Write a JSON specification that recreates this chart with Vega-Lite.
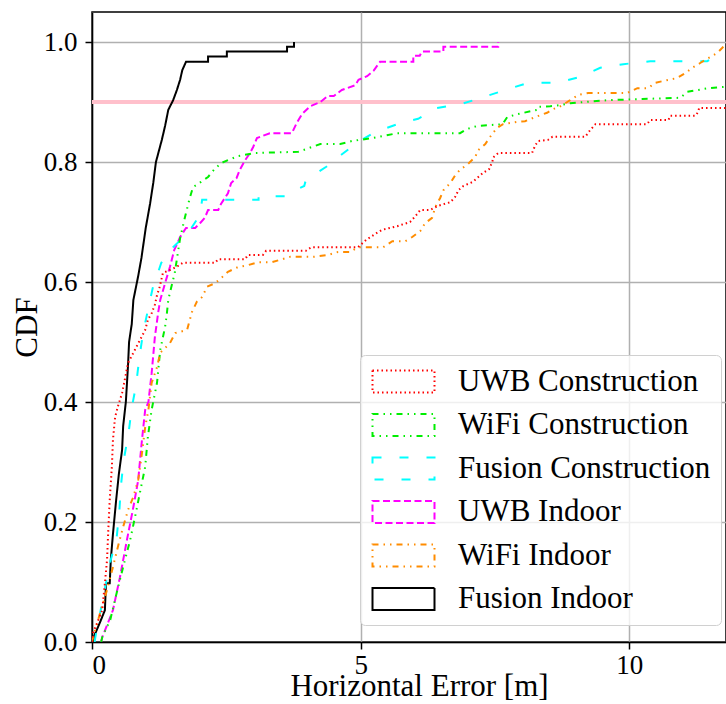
{
  "$schema": "https://vega.github.io/schema/vega-lite/v6.json",
  "width": 634,
  "height": 630,
  "autosize": {"type": "none"},
  "padding": {"left": 92, "top": 12, "right": 0, "bottom": 62},
  "background": "white",
  "config": {
    "view": {"stroke": "black", "strokeWidth": 1.5},
    "font": "Liberation Serif",
    "legend": {"labelFont": "Liberation Serif"},
    "axis": {
      "labelFont": "Liberation Serif",
      "titleFont": "Liberation Serif",
      "labelColor": "black",
      "titleColor": "black",
      "labelFontSize": 27,
      "titleFontSize": 31,
      "titleFontWeight": "normal",
      "grid": true,
      "gridColor": "#b0b0b0",
      "gridWidth": 1.5,
      "domainColor": "black",
      "domainWidth": 1.5,
      "tickColor": "black",
      "tickWidth": 1.5,
      "tickSize": 7
    }
  },
  "data": {"values": [
    {"s":"Fusion Indoor","x":0.03,"y":0},{"s":"Fusion Indoor","x":0.04,"y":0.01},{"s":"Fusion Indoor","x":0.15,"y":0.033},{"s":"Fusion Indoor","x":0.24,"y":0.053},{"s":"Fusion Indoor","x":0.26,"y":0.098},{"s":"Fusion Indoor","x":0.33,"y":0.098},{"s":"Fusion Indoor","x":0.35,"y":0.137},{"s":"Fusion Indoor","x":0.39,"y":0.18},{"s":"Fusion Indoor","x":0.45,"y":0.237},{"s":"Fusion Indoor","x":0.5,"y":0.28},{"s":"Fusion Indoor","x":0.56,"y":0.32},{"s":"Fusion Indoor","x":0.58,"y":0.36},{"s":"Fusion Indoor","x":0.63,"y":0.4},{"s":"Fusion Indoor","x":0.67,"y":0.46},{"s":"Fusion Indoor","x":0.69,"y":0.5},{"s":"Fusion Indoor","x":0.74,"y":0.53},{"s":"Fusion Indoor","x":0.77,"y":0.57},{"s":"Fusion Indoor","x":0.86,"y":0.61},{"s":"Fusion Indoor","x":0.92,"y":0.64},{"s":"Fusion Indoor","x":1.0,"y":0.69},{"s":"Fusion Indoor","x":1.08,"y":0.73},{"s":"Fusion Indoor","x":1.14,"y":0.765},{"s":"Fusion Indoor","x":1.19,"y":0.8},{"s":"Fusion Indoor","x":1.3,"y":0.837},{"s":"Fusion Indoor","x":1.36,"y":0.86},{"s":"Fusion Indoor","x":1.42,"y":0.887},{"s":"Fusion Indoor","x":1.51,"y":0.903},{"s":"Fusion Indoor","x":1.58,"y":0.92},{"s":"Fusion Indoor","x":1.64,"y":0.937},{"s":"Fusion Indoor","x":1.68,"y":0.953},{"s":"Fusion Indoor","x":1.75,"y":0.967},{"s":"Fusion Indoor","x":2.16,"y":0.967},{"s":"Fusion Indoor","x":2.16,"y":0.976},{"s":"Fusion Indoor","x":2.51,"y":0.976},{"s":"Fusion Indoor","x":2.51,"y":0.984},{"s":"Fusion Indoor","x":3.63,"y":0.984},{"s":"Fusion Indoor","x":3.63,"y":0.992},{"s":"Fusion Indoor","x":3.76,"y":0.992},{"s":"Fusion Indoor","x":3.76,"y":1.0},

    {"s":"UWB Indoor","x":0.17,"y":0},{"s":"UWB Indoor","x":0.19,"y":0.008},{"s":"UWB Indoor","x":0.39,"y":0.053},{"s":"UWB Indoor","x":0.52,"y":0.108},{"s":"UWB Indoor","x":0.65,"y":0.17},{"s":"UWB Indoor","x":0.77,"y":0.225},{"s":"UWB Indoor","x":0.86,"y":0.27},{"s":"UWB Indoor","x":0.93,"y":0.337},{"s":"UWB Indoor","x":0.99,"y":0.387},{"s":"UWB Indoor","x":1.05,"y":0.4},{"s":"UWB Indoor","x":1.11,"y":0.448},{"s":"UWB Indoor","x":1.17,"y":0.508},{"s":"UWB Indoor","x":1.23,"y":0.548},{"s":"UWB Indoor","x":1.27,"y":0.57},{"s":"UWB Indoor","x":1.36,"y":0.598},{"s":"UWB Indoor","x":1.45,"y":0.625},{"s":"UWB Indoor","x":1.53,"y":0.653},{"s":"UWB Indoor","x":1.64,"y":0.675},{"s":"UWB Indoor","x":1.75,"y":0.69},{"s":"UWB Indoor","x":1.92,"y":0.69},{"s":"UWB Indoor","x":2.01,"y":0.698},{"s":"UWB Indoor","x":2.1,"y":0.707},{"s":"UWB Indoor","x":2.16,"y":0.72},{"s":"UWB Indoor","x":2.35,"y":0.72},{"s":"UWB Indoor","x":2.4,"y":0.73},{"s":"UWB Indoor","x":2.53,"y":0.748},{"s":"UWB Indoor","x":2.59,"y":0.765},{"s":"UWB Indoor","x":2.69,"y":0.773},{"s":"UWB Indoor","x":2.75,"y":0.787},{"s":"UWB Indoor","x":2.85,"y":0.803},{"s":"UWB Indoor","x":2.94,"y":0.815},{"s":"UWB Indoor","x":3.0,"y":0.825},{"s":"UWB Indoor","x":3.07,"y":0.84},{"s":"UWB Indoor","x":3.31,"y":0.848},{"s":"UWB Indoor","x":3.72,"y":0.848},{"s":"UWB Indoor","x":3.81,"y":0.865},{"s":"UWB Indoor","x":3.91,"y":0.88},{"s":"UWB Indoor","x":4.06,"y":0.893},{"s":"UWB Indoor","x":4.25,"y":0.9},{"s":"UWB Indoor","x":4.39,"y":0.91},{"s":"UWB Indoor","x":4.5,"y":0.91},{"s":"UWB Indoor","x":4.65,"y":0.92},{"s":"UWB Indoor","x":4.9,"y":0.928},{"s":"UWB Indoor","x":4.96,"y":0.937},{"s":"UWB Indoor","x":5.12,"y":0.943},{"s":"UWB Indoor","x":5.24,"y":0.952},{"s":"UWB Indoor","x":5.36,"y":0.967},{"s":"UWB Indoor","x":5.98,"y":0.967},{"s":"UWB Indoor","x":5.98,"y":0.977},{"s":"UWB Indoor","x":6.1,"y":0.977},{"s":"UWB Indoor","x":6.14,"y":0.984},{"s":"UWB Indoor","x":6.54,"y":0.984},{"s":"UWB Indoor","x":6.54,"y":0.992},{"s":"UWB Indoor","x":7.56,"y":0.992},{"s":"UWB Indoor","x":7.56,"y":1.0},

    {"s":"Fusion Construction","x":0.05,"y":0},{"s":"Fusion Construction","x":0.06,"y":0.007},{"s":"Fusion Construction","x":0.33,"y":0.13},{"s":"Fusion Construction","x":0.46,"y":0.175},{"s":"Fusion Construction","x":0.51,"y":0.22},{"s":"Fusion Construction","x":0.54,"y":0.262},{"s":"Fusion Construction","x":0.59,"y":0.303},{"s":"Fusion Construction","x":0.68,"y":0.348},{"s":"Fusion Construction","x":0.74,"y":0.39},{"s":"Fusion Construction","x":0.82,"y":0.428},{"s":"Fusion Construction","x":0.88,"y":0.473},{"s":"Fusion Construction","x":0.95,"y":0.515},{"s":"Fusion Construction","x":1.04,"y":0.553},{"s":"Fusion Construction","x":1.13,"y":0.59},{"s":"Fusion Construction","x":1.29,"y":0.632},{"s":"Fusion Construction","x":1.51,"y":0.658},{"s":"Fusion Construction","x":1.79,"y":0.682},{"s":"Fusion Construction","x":2.01,"y":0.712},{"s":"Fusion Construction","x":2.05,"y":0.737},{"s":"Fusion Construction","x":3.1,"y":0.737},{"s":"Fusion Construction","x":3.1,"y":0.743},{"s":"Fusion Construction","x":3.6,"y":0.743},{"s":"Fusion Construction","x":3.65,"y":0.748},{"s":"Fusion Construction","x":3.95,"y":0.76},{"s":"Fusion Construction","x":3.98,"y":0.77},{"s":"Fusion Construction","x":4.36,"y":0.792},{"s":"Fusion Construction","x":4.64,"y":0.812},{"s":"Fusion Construction","x":4.93,"y":0.832},{"s":"Fusion Construction","x":5.27,"y":0.85},{"s":"Fusion Construction","x":5.68,"y":0.863},{"s":"Fusion Construction","x":6.07,"y":0.872},{"s":"Fusion Construction","x":6.42,"y":0.89},{"s":"Fusion Construction","x":6.89,"y":0.897},{"s":"Fusion Construction","x":7.28,"y":0.908},{"s":"Fusion Construction","x":7.69,"y":0.92},{"s":"Fusion Construction","x":8.12,"y":0.932},{"s":"Fusion Construction","x":8.66,"y":0.932},{"s":"Fusion Construction","x":9.09,"y":0.942},{"s":"Fusion Construction","x":9.46,"y":0.957},{"s":"Fusion Construction","x":9.89,"y":0.963},{"s":"Fusion Construction","x":10.39,"y":0.968},{"s":"Fusion Construction","x":11.45,"y":0.968},{"s":"Fusion Construction","x":11.6,"y":0.975},{"s":"Fusion Construction","x":12.5,"y":0.975},

    {"s":"WiFi Construction","x":0.17,"y":0},{"s":"WiFi Construction","x":0.19,"y":0.008},{"s":"WiFi Construction","x":0.34,"y":0.037},{"s":"WiFi Construction","x":0.46,"y":0.082},{"s":"WiFi Construction","x":0.58,"y":0.125},{"s":"WiFi Construction","x":0.71,"y":0.17},{"s":"WiFi Construction","x":0.8,"y":0.208},{"s":"WiFi Construction","x":0.89,"y":0.248},{"s":"WiFi Construction","x":0.99,"y":0.292},{"s":"WiFi Construction","x":1.04,"y":0.342},{"s":"WiFi Construction","x":1.11,"y":0.387},{"s":"WiFi Construction","x":1.21,"y":0.432},{"s":"WiFi Construction","x":1.27,"y":0.487},{"s":"WiFi Construction","x":1.36,"y":0.525},{"s":"WiFi Construction","x":1.39,"y":0.545},{"s":"WiFi Construction","x":1.42,"y":0.57},{"s":"WiFi Construction","x":1.45,"y":0.582},{"s":"WiFi Construction","x":1.54,"y":0.615},{"s":"WiFi Construction","x":1.64,"y":0.673},{"s":"WiFi Construction","x":1.73,"y":0.708},{"s":"WiFi Construction","x":1.82,"y":0.74},{"s":"WiFi Construction","x":1.88,"y":0.758},{"s":"WiFi Construction","x":2.03,"y":0.767},{"s":"WiFi Construction","x":2.16,"y":0.775},{"s":"WiFi Construction","x":2.27,"y":0.787},{"s":"WiFi Construction","x":2.4,"y":0.798},{"s":"WiFi Construction","x":2.53,"y":0.803},{"s":"WiFi Construction","x":2.72,"y":0.81},{"s":"WiFi Construction","x":3.04,"y":0.815},{"s":"WiFi Construction","x":3.84,"y":0.817},{"s":"WiFi Construction","x":4.25,"y":0.83},{"s":"WiFi Construction","x":4.62,"y":0.83},{"s":"WiFi Construction","x":4.84,"y":0.835},{"s":"WiFi Construction","x":5.23,"y":0.84},{"s":"WiFi Construction","x":5.68,"y":0.848},{"s":"WiFi Construction","x":6.85,"y":0.848},{"s":"WiFi Construction","x":6.98,"y":0.855},{"s":"WiFi Construction","x":7.17,"y":0.86},{"s":"WiFi Construction","x":7.64,"y":0.863},{"s":"WiFi Construction","x":7.73,"y":0.875},{"s":"WiFi Construction","x":7.93,"y":0.88},{"s":"WiFi Construction","x":8.29,"y":0.887},{"s":"WiFi Construction","x":8.31,"y":0.892},{"s":"WiFi Construction","x":8.53,"y":0.893},{"s":"WiFi Construction","x":8.72,"y":0.895},{"s":"WiFi Construction","x":8.9,"y":0.898},{"s":"WiFi Construction","x":9.59,"y":0.903},{"s":"WiFi Construction","x":10.24,"y":0.905},{"s":"WiFi Construction","x":10.95,"y":0.907},{"s":"WiFi Construction","x":11.08,"y":0.917},{"s":"WiFi Construction","x":11.47,"y":0.923},{"s":"WiFi Construction","x":11.75,"y":0.925},{"s":"WiFi Construction","x":12.5,"y":0.93},

    {"s":"WiFi Indoor","x":0.0,"y":0},{"s":"WiFi Indoor","x":0.02,"y":0.008},{"s":"WiFi Indoor","x":0.15,"y":0.048},{"s":"WiFi Indoor","x":0.28,"y":0.087},{"s":"WiFi Indoor","x":0.39,"y":0.125},{"s":"WiFi Indoor","x":0.48,"y":0.158},{"s":"WiFi Indoor","x":0.58,"y":0.192},{"s":"WiFi Indoor","x":0.67,"y":0.22},{"s":"WiFi Indoor","x":0.77,"y":0.242},{"s":"WiFi Indoor","x":0.86,"y":0.27},{"s":"WiFi Indoor","x":0.93,"y":0.315},{"s":"WiFi Indoor","x":0.99,"y":0.358},{"s":"WiFi Indoor","x":1.05,"y":0.387},{"s":"WiFi Indoor","x":1.11,"y":0.432},{"s":"WiFi Indoor","x":1.21,"y":0.458},{"s":"WiFi Indoor","x":1.27,"y":0.482},{"s":"WiFi Indoor","x":1.45,"y":0.498},{"s":"WiFi Indoor","x":1.55,"y":0.515},{"s":"WiFi Indoor","x":1.77,"y":0.52},{"s":"WiFi Indoor","x":1.86,"y":0.55},{"s":"WiFi Indoor","x":1.95,"y":0.567},{"s":"WiFi Indoor","x":2.05,"y":0.575},{"s":"WiFi Indoor","x":2.14,"y":0.592},{"s":"WiFi Indoor","x":2.29,"y":0.598},{"s":"WiFi Indoor","x":2.42,"y":0.608},{"s":"WiFi Indoor","x":2.53,"y":0.617},{"s":"WiFi Indoor","x":2.72,"y":0.625},{"s":"WiFi Indoor","x":2.9,"y":0.628},{"s":"WiFi Indoor","x":3.09,"y":0.633},{"s":"WiFi Indoor","x":3.35,"y":0.633},{"s":"WiFi Indoor","x":3.69,"y":0.642},{"s":"WiFi Indoor","x":4.12,"y":0.642},{"s":"WiFi Indoor","x":4.39,"y":0.645},{"s":"WiFi Indoor","x":4.58,"y":0.65},{"s":"WiFi Indoor","x":4.8,"y":0.65},{"s":"WiFi Indoor","x":4.95,"y":0.658},{"s":"WiFi Indoor","x":5.42,"y":0.658},{"s":"WiFi Indoor","x":5.59,"y":0.668},{"s":"WiFi Indoor","x":5.83,"y":0.668},{"s":"WiFi Indoor","x":5.96,"y":0.675},{"s":"WiFi Indoor","x":6.11,"y":0.685},{"s":"WiFi Indoor","x":6.2,"y":0.698},{"s":"WiFi Indoor","x":6.33,"y":0.707},{"s":"WiFi Indoor","x":6.39,"y":0.725},{"s":"WiFi Indoor","x":6.48,"y":0.74},{"s":"WiFi Indoor","x":6.54,"y":0.753},{"s":"WiFi Indoor","x":6.67,"y":0.765},{"s":"WiFi Indoor","x":6.76,"y":0.778},{"s":"WiFi Indoor","x":6.85,"y":0.787},{"s":"WiFi Indoor","x":7.0,"y":0.797},{"s":"WiFi Indoor","x":7.13,"y":0.808},{"s":"WiFi Indoor","x":7.19,"y":0.82},{"s":"WiFi Indoor","x":7.32,"y":0.83},{"s":"WiFi Indoor","x":7.45,"y":0.847},{"s":"WiFi Indoor","x":7.54,"y":0.857},{"s":"WiFi Indoor","x":7.65,"y":0.863},{"s":"WiFi Indoor","x":7.91,"y":0.867},{"s":"WiFi Indoor","x":8.06,"y":0.868},{"s":"WiFi Indoor","x":8.25,"y":0.875},{"s":"WiFi Indoor","x":8.47,"y":0.882},{"s":"WiFi Indoor","x":8.58,"y":0.888},{"s":"WiFi Indoor","x":8.72,"y":0.893},{"s":"WiFi Indoor","x":8.9,"y":0.903},{"s":"WiFi Indoor","x":9.05,"y":0.912},{"s":"WiFi Indoor","x":9.24,"y":0.915},{"s":"WiFi Indoor","x":9.96,"y":0.915},{"s":"WiFi Indoor","x":10.15,"y":0.923},{"s":"WiFi Indoor","x":10.35,"y":0.923},{"s":"WiFi Indoor","x":10.48,"y":0.932},{"s":"WiFi Indoor","x":10.89,"y":0.94},{"s":"WiFi Indoor","x":11.04,"y":0.948},{"s":"WiFi Indoor","x":11.19,"y":0.958},{"s":"WiFi Indoor","x":11.32,"y":0.965},{"s":"WiFi Indoor","x":11.47,"y":0.973},{"s":"WiFi Indoor","x":11.64,"y":0.982},{"s":"WiFi Indoor","x":11.75,"y":0.992},{"s":"WiFi Indoor","x":11.9,"y":1.0},

    {"s":"UWB Construction","x":0.0,"y":0},{"s":"UWB Construction","x":0.02,"y":0.015},{"s":"UWB Construction","x":0.19,"y":0.053},{"s":"UWB Construction","x":0.24,"y":0.098},{"s":"UWB Construction","x":0.28,"y":0.137},{"s":"UWB Construction","x":0.3,"y":0.18},{"s":"UWB Construction","x":0.33,"y":0.237},{"s":"UWB Construction","x":0.37,"y":0.292},{"s":"UWB Construction","x":0.39,"y":0.337},{"s":"UWB Construction","x":0.43,"y":0.375},{"s":"UWB Construction","x":0.48,"y":0.392},{"s":"UWB Construction","x":0.56,"y":0.415},{"s":"UWB Construction","x":0.61,"y":0.437},{"s":"UWB Construction","x":0.67,"y":0.465},{"s":"UWB Construction","x":0.77,"y":0.482},{"s":"UWB Construction","x":0.89,"y":0.503},{"s":"UWB Construction","x":0.99,"y":0.52},{"s":"UWB Construction","x":1.04,"y":0.537},{"s":"UWB Construction","x":1.11,"y":0.548},{"s":"UWB Construction","x":1.17,"y":0.562},{"s":"UWB Construction","x":1.21,"y":0.578},{"s":"UWB Construction","x":1.26,"y":0.592},{"s":"UWB Construction","x":1.32,"y":0.615},{"s":"UWB Construction","x":1.45,"y":0.62},{"s":"UWB Construction","x":1.57,"y":0.625},{"s":"UWB Construction","x":1.69,"y":0.632},{"s":"UWB Construction","x":2.29,"y":0.632},{"s":"UWB Construction","x":2.35,"y":0.638},{"s":"UWB Construction","x":2.85,"y":0.638},{"s":"UWB Construction","x":2.9,"y":0.645},{"s":"UWB Construction","x":3.18,"y":0.645},{"s":"UWB Construction","x":3.24,"y":0.652},{"s":"UWB Construction","x":3.98,"y":0.652},{"s":"UWB Construction","x":4.08,"y":0.658},{"s":"UWB Construction","x":4.95,"y":0.658},{"s":"UWB Construction","x":5.1,"y":0.67},{"s":"UWB Construction","x":5.27,"y":0.68},{"s":"UWB Construction","x":5.4,"y":0.687},{"s":"UWB Construction","x":5.68,"y":0.693},{"s":"UWB Construction","x":5.92,"y":0.7},{"s":"UWB Construction","x":6.05,"y":0.713},{"s":"UWB Construction","x":6.11,"y":0.72},{"s":"UWB Construction","x":6.29,"y":0.72},{"s":"UWB Construction","x":6.44,"y":0.727},{"s":"UWB Construction","x":6.67,"y":0.733},{"s":"UWB Construction","x":6.76,"y":0.742},{"s":"UWB Construction","x":6.82,"y":0.753},{"s":"UWB Construction","x":6.91,"y":0.76},{"s":"UWB Construction","x":7.09,"y":0.767},{"s":"UWB Construction","x":7.19,"y":0.775},{"s":"UWB Construction","x":7.28,"y":0.782},{"s":"UWB Construction","x":7.39,"y":0.788},{"s":"UWB Construction","x":7.45,"y":0.8},{"s":"UWB Construction","x":7.47,"y":0.808},{"s":"UWB Construction","x":7.56,"y":0.815},{"s":"UWB Construction","x":8.19,"y":0.815},{"s":"UWB Construction","x":8.25,"y":0.828},{"s":"UWB Construction","x":8.31,"y":0.835},{"s":"UWB Construction","x":8.49,"y":0.837},{"s":"UWB Construction","x":8.57,"y":0.842},{"s":"UWB Construction","x":9.18,"y":0.842},{"s":"UWB Construction","x":9.27,"y":0.853},{"s":"UWB Construction","x":9.37,"y":0.863},{"s":"UWB Construction","x":10.33,"y":0.863},{"s":"UWB Construction","x":10.39,"y":0.87},{"s":"UWB Construction","x":10.73,"y":0.87},{"s":"UWB Construction","x":10.76,"y":0.877},{"s":"UWB Construction","x":11.23,"y":0.877},{"s":"UWB Construction","x":11.28,"y":0.883},{"s":"UWB Construction","x":11.3,"y":0.89},{"s":"UWB Construction","x":12.5,"y":0.89}
  ]},
  "layer": [
    {
      "mark": {"type": "rule", "color": "#ffc0cb", "strokeWidth": 3},
      "encoding": {"y": {"datum": 0.9, "type": "quantitative"}}
    },
    {
      "mark": {"type": "line", "strokeWidth": 2, "clip": true},
      "encoding": {
        "x": {
          "field": "x", "type": "quantitative",
          "scale": {"domain": [0, 11.8], "nice": false, "zero": false},
          "axis": {"values": [0, 5, 10], "title": "Horizontal Error [m]", "titlePadding": -7, "labelPadding": 3, "titleX": 327}
        },
        "y": {
          "field": "y", "type": "quantitative",
          "scale": {"domain": [0, 1.05], "nice": false},
          "axis": {"values": [0, 0.2, 0.4, 0.6, 0.8, 1.0], "format": ".1f", "title": "CDF", "titlePadding": 0, "labelPadding": 8}
        },
        "order": [{"field": "x", "type": "quantitative"}, {"field": "y", "type": "quantitative"}],
        "color": {
          "field": "s", "type": "nominal",
          "scale": {
            "domain": ["UWB Construction", "WiFi Construction", "Fusion Construction", "UWB Indoor", "WiFi Indoor", "Fusion Indoor"],
            "range": ["#ff0000", "#00ee00", "#00ffff", "#ff00ff", "#ff8c00", "#000000"]
          },
          "legend": {
            "title": null,
            "orient": "none",
            "legendX": 268,
            "legendY": 343,
            "symbolType": "M-2,-0.71H2V0.71H-2Z",
            "symbolSize": 961,
            "symbolOffset": 17,
            "symbolStrokeWidth": 2,
            "symbolFillColor": "transparent",
            "labelFont": "Liberation Serif",
            "labelFontSize": 31,
            "labelColor": "black",
            "labelOffset": 38,
            "labelLimit": 400,
            "padding": 10,
            "rowPadding": 11.5,
            "fillColor": "rgba(255,255,255,0.8)",
            "strokeColor": "#d0d0d0",
            "cornerRadius": 5
          }
        },
        "strokeDash": {
          "field": "s", "type": "nominal",
          "scale": {
            "domain": ["UWB Construction", "WiFi Construction", "Fusion Construction", "UWB Indoor", "WiFi Indoor", "Fusion Indoor"],
            "range": [[1.5, 3], [6, 5, 1.5, 5, 1.5, 5], [9, 18], [7, 3.5], [6, 5, 1.5, 5, 1.5, 5], [1, 0]]
          }
        }
      }
    }
  ]
}
